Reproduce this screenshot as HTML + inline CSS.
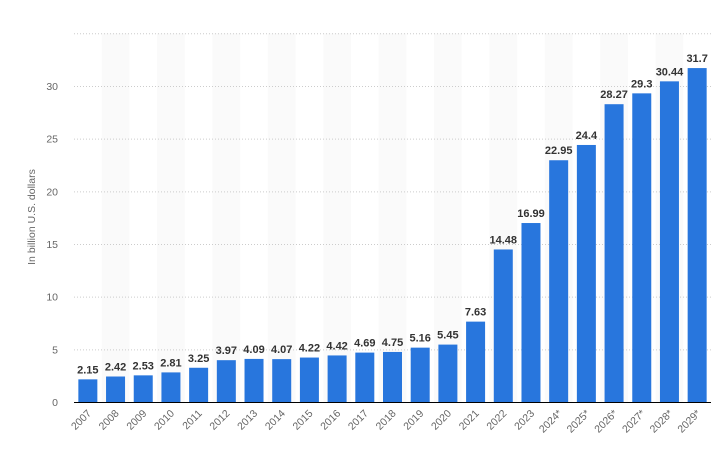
<!DOCTYPE html>
<html><head><meta charset="utf-8"><style>
body{margin:0;background:#fff;width:723px;height:463px;overflow:hidden;font-family:"Liberation Sans",sans-serif}
</style></head><body>
<svg id="chart" width="723" height="463" xmlns="http://www.w3.org/2000/svg">
<text transform="translate(35,217) rotate(-90)" text-anchor="middle" font-size="10.5" fill="#666">In billion U.S. dollars</text>
</svg>
<script>
const categories=["2007","2008","2009","2010","2011","2012","2013","2014","2015","2016","2017","2018","2019","2020","2021","2022","2023","2024*","2025*","2026*","2027*","2028*","2029*"];
const values=[2.15,2.42,2.53,2.81,3.25,3.97,4.09,4.07,4.22,4.42,4.69,4.75,5.16,5.45,7.63,14.48,16.99,22.95,24.4,28.27,29.3,30.44,31.7];
const valueLabels=["2.15","2.42","2.53","2.81","3.25","3.97","4.09","4.07","4.22","4.42","4.69","4.75","5.16","5.45","7.63","14.48","16.99","22.95","24.4","28.27","29.3","30.44","31.7"];
const yTicks=[0,5,10,15,20,25,30,35];
const svg=document.getElementById('chart');
const NS='http://www.w3.org/2000/svg';
const x0=74,x1=711,yBase=402,pxPerUnit=52.67/5;
const slot=(x1-x0)/categories.length;
const y=v=>yBase-v*pxPerUnit;
const xc=i=>x0+slot*(i+0.5);
function mk(t,a){const e=document.createElementNS(NS,t);for(const k in a)e.setAttribute(k,a[k]);svg.appendChild(e);return e;}
categories.forEach((c,i)=>{if(i%2==1){const b=mk('rect',{x:x0+slot*i,y:y(35),width:slot,height:yBase-y(35),fill:'#fafafa'});

}});
yTicks.forEach(t=>{
 if(t>0){const g=mk('line',{x1:x0,x2:x1,y1:y(t)+0.5,y2:y(t)+0.5,stroke:'#ccc','stroke-dasharray':'1,2'});
 
 }
 if(t<35){const l=mk('text',{x:58,y:y(t)+4,'text-anchor':'end','font-size':'10.5',fill:'#666'});l.textContent=t;
 
 }
});
values.forEach((v,i)=>{
 const r=mk('rect',{x:xc(i)-9.5,y:y(v),width:19,height:yBase-y(v),fill:'#2876dd'});
 
 
 const t=mk('text',{x:xc(i),y:y(v)-6,'text-anchor':'middle','font-size':'11','font-weight':'bold',fill:'#333'});t.textContent=valueLabels[i];
 
 
 const a=mk('text',{transform:`translate(${xc(i)+4},${yBase+12}) rotate(-45)`,'text-anchor':'end','font-size':'10.5',fill:'#666'});a.textContent=categories[i];
 
 
});
const ax=mk('line',{x1:x0,x2:x1,y1:yBase+0.5,y2:yBase+0.5,stroke:'#000','stroke-width':1});


</script>
</body></html>
